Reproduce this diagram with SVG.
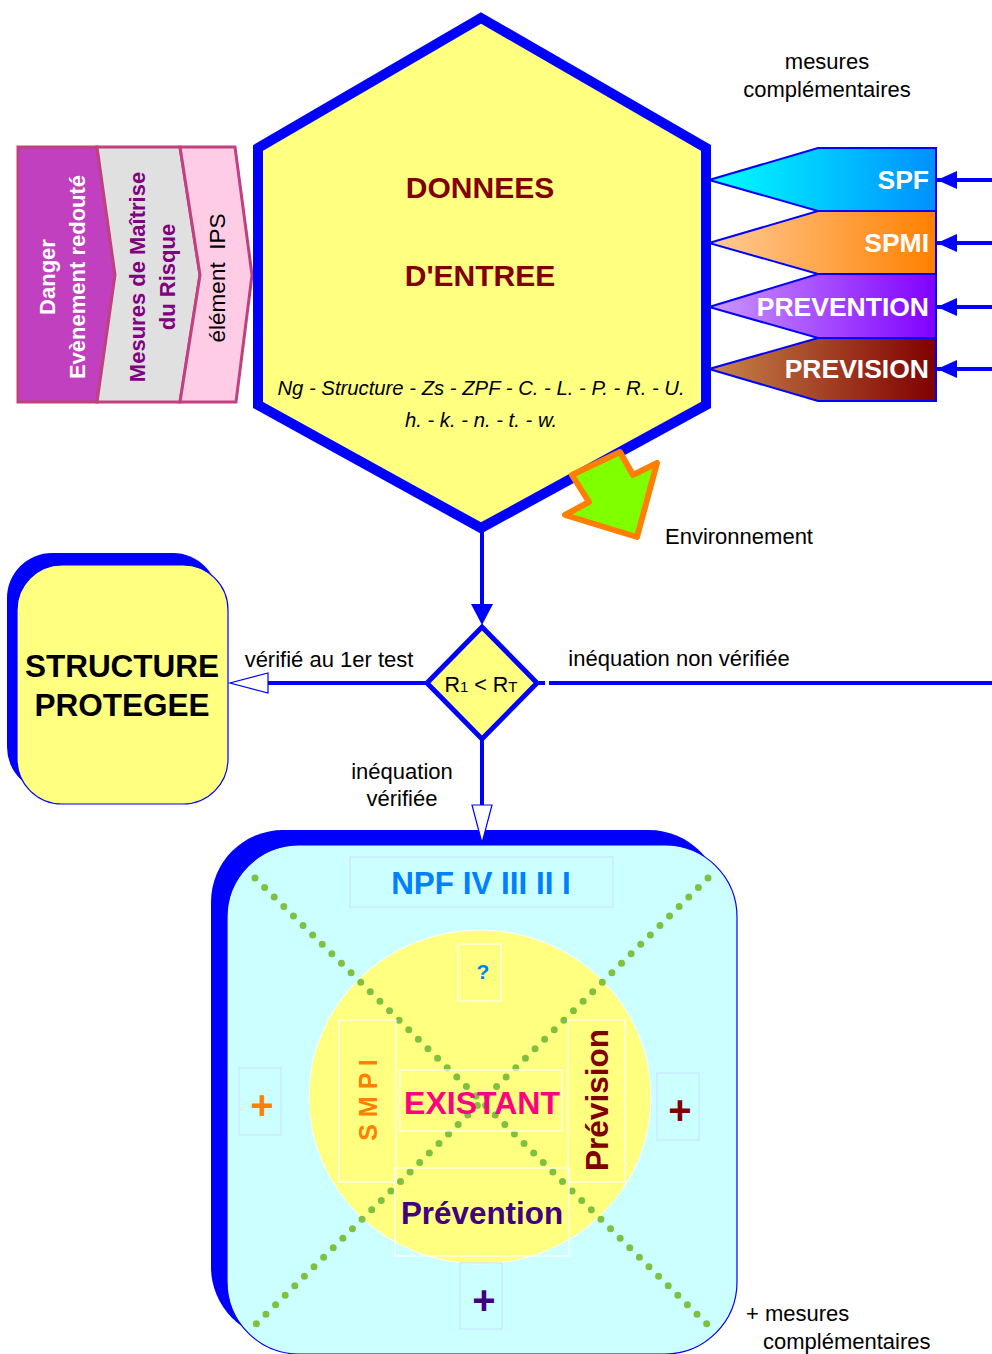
<svg xmlns="http://www.w3.org/2000/svg" width="992" height="1354" viewBox="0 0 992 1354">
<style>
text{font-family:"Liberation Sans",Arial,sans-serif}
.b{font-weight:bold}
.lbl{font-size:22px;fill:#000}
.box{fill:none;stroke:#FFFFFF;stroke-width:1.2}
.pbox{fill:none;stroke:#C8E4FF;stroke-width:1.2}
.wt{fill:#fff;font-weight:bold;font-size:26.5px;text-anchor:end}
.link{stroke:#0000FF;stroke-width:4;fill:none}
.plus{font-size:40px;font-weight:bold;text-anchor:middle}
.dots{stroke:#80C040;stroke-width:7;stroke-linecap:round;stroke-dasharray:0 13.5;fill:none}
</style>
<defs>
<linearGradient id="gSPF" x1="0" x2="1" y1="0" y2="0"><stop offset="0" stop-color="#00FFFF"/><stop offset="1" stop-color="#0090FF"/></linearGradient>
<linearGradient id="gSPMI" x1="0" x2="1" y1="0" y2="0"><stop offset="0" stop-color="#FFCC99"/><stop offset="1" stop-color="#FF8000"/></linearGradient>
<linearGradient id="gPREV" x1="0" x2="1" y1="0" y2="0"><stop offset="0" stop-color="#CC99FF"/><stop offset="1" stop-color="#8000FF"/></linearGradient>
<linearGradient id="gPRVS" x1="0" x2="1" y1="0" y2="0"><stop offset="0" stop-color="#C8864A"/><stop offset="1" stop-color="#800000"/></linearGradient>
<marker id="fa" markerWidth="20" markerHeight="20" refX="20" refY="10" orient="auto" markerUnits="userSpaceOnUse" viewBox="0 0 20 20"><path d="M0,1 L20,10 L0,19 z" fill="#0000FF"/></marker>
</defs>

<!-- chevrons -->
<g id="chevrons">
<polygon points="18,147 97,147 115,275 97,402 18,402" fill="#C040C0" stroke="#C04080" stroke-width="3"/>
<polygon points="97,147 180,147 200,275 180,402 97,402 115,275" fill="#E0E0E0" stroke="#C04080" stroke-width="3"/>
<polygon points="180,147 235,147 252,275 236,402 180,402 200,275" fill="#FFCCE6" stroke="#C04080" stroke-width="3"/>
<text transform="translate(55,277) rotate(-90)" text-anchor="middle" font-size="22" class="b" fill="#fff">Danger</text>
<text transform="translate(85,277) rotate(-90)" text-anchor="middle" font-size="22" class="b" fill="#fff">Evènement redouté</text>
<text transform="translate(145,277) rotate(-90)" text-anchor="middle" font-size="22" class="b" fill="#800080">Mesures de Maîtrise</text>
<text transform="translate(175,277) rotate(-90)" text-anchor="middle" font-size="22" class="b" fill="#800080">du Risque</text>
<text transform="translate(225,278) rotate(-90)" text-anchor="middle" font-size="22.5" fill="#000" xml:space="preserve">élément  IPS</text>
</g>

<!-- hexagon -->
<g id="donnees">
<polygon points="481,18 706,148 706,405 481,528 258,405 258,148" fill="#FFFF80" stroke="#0000FF" stroke-width="10" stroke-linejoin="miter"/>
<text x="480" y="198" text-anchor="middle" font-size="30" class="b" fill="#800000">DONNEES</text>
<text x="480" y="286" text-anchor="middle" font-size="30" class="b" fill="#800000">D'ENTREE</text>
<text x="481" y="395" text-anchor="middle" font-size="20.3" font-style="italic" fill="#000">Ng - Structure - Zs - ZPF - C. - L. - P. - R. - U.</text>
<text x="481" y="427" text-anchor="middle" font-size="20.3" font-style="italic" fill="#000">h. - k. - n. - t. - w.</text>
</g>

<!-- measures -->
<g id="spf">
<polygon points="709,180 818,148 936,148 936,211 818,211" fill="url(#gSPF)" stroke="#0000FF" stroke-width="2"/>
<text x="929" y="189" class="wt">SPF</text>
</g>
<g id="spmi">
<polygon points="709,243 818,211 936,211 936,274 818,274" fill="url(#gSPMI)" stroke="#0000FF" stroke-width="2"/>
<text x="929" y="252" class="wt">SPMI</text>
</g>
<g id="prevention">
<polygon points="709,307 818,274 936,274 936,338 818,338" fill="url(#gPREV)" stroke="#0000FF" stroke-width="2"/>
<text x="929" y="316" class="wt">PREVENTION</text>
</g>
<g id="prevision">
<polygon points="709,369 818,338 936,338 936,401 818,401" fill="url(#gPRVS)" stroke="#0000FF" stroke-width="2"/>
<text x="929" y="378" class="wt">PREVISION</text>
</g>
<text x="827" y="69" text-anchor="middle" class="lbl">mesures</text>
<text x="827" y="97" text-anchor="middle" class="lbl">complémentaires</text>

<!-- environment arrow -->
<g id="environnement">
<polygon points="572,475 620,452 633,475 657,463 637,537 565,515 589,502" fill="#80FF00" stroke="#FF8000" stroke-width="6" stroke-linejoin="round"/>
<text x="665" y="544" class="lbl">Environnement</text>
</g>

<!-- structure protegee -->
<g id="structure">
<rect x="7" y="553" width="211" height="239" rx="45" fill="#0000FF"/>
<rect x="17" y="565" width="211" height="239" rx="45" fill="#FFFF80" stroke="#0000FF" stroke-width="1.2"/>
<text x="122" y="677" text-anchor="middle" font-size="31.5" class="b" fill="#000">STRUCTURE</text>
<text x="122" y="716" text-anchor="middle" font-size="31.5" class="b" fill="#000">PROTEGEE</text>
</g>

<!-- decision -->
<g id="decision">
<polygon points="482,627 537,683 482,739 427,683" fill="#FFFF80" stroke="#0000FF" stroke-width="5"/>
<text x="481" y="692" text-anchor="middle" font-size="21.5" fill="#000">R<tspan font-size="15">1</tspan> &lt; R<tspan font-size="15">T</tspan></text>
</g>

<!-- NPF box -->
<g id="npf">
<rect x="211" y="830" width="510" height="509" rx="72" fill="#0000FF"/>
<rect x="227" y="845" width="510" height="509" rx="72" fill="#CCFFFF" stroke="#0000FF" stroke-width="1.2"/>
<rect x="350" y="857" width="263" height="50" fill="none" stroke="#C8E4FF" stroke-width="1.2"/>
<text x="481" y="894" text-anchor="middle" font-size="31.4" class="b" fill="#0080FF">NPF IV III II I</text>
<ellipse cx="480" cy="1097" rx="171" ry="167" fill="#FFFF80" stroke="#FFFFFF" stroke-width="1"/>
<path class="dots" d="M255,878 L708,1325"/>
<path class="dots" d="M708,878 L255,1325"/>
<rect class="box" x="458" y="944" width="43" height="57"/>
<text x="483" y="979" text-anchor="middle" font-size="21" class="b" fill="#0080FF">?</text>
<rect class="box" x="339" y="1020" width="57" height="162"/>
<text transform="translate(377,1100) rotate(-90)" text-anchor="middle" font-size="25" class="b" fill="#FF8000">S M P I</text>
<rect class="box" x="400" y="1070" width="162" height="61"/>
<text x="482" y="1114" text-anchor="middle" font-size="32" class="b" fill="#FF0080">EXISTANT</text>
<rect class="box" x="568" y="1020" width="57" height="162"/>
<text transform="translate(608,1100) rotate(-90)" text-anchor="middle" font-size="31.5" class="b" fill="#800000">Prévision</text>
<rect class="box" x="395" y="1168" width="174" height="88"/>
<text x="482" y="1224" text-anchor="middle" font-size="31.4" class="b" fill="#400080">Prévention</text>
<rect class="pbox" x="239" y="1068" width="42" height="67"/>
<text x="262" y="1119" class="plus" fill="#FF8000">+</text>
<rect class="pbox" x="657" y="1073" width="42" height="67"/>
<text x="680" y="1124" class="plus" fill="#800000">+</text>
<rect class="pbox" x="460" y="1263" width="42" height="66"/>
<text x="484" y="1314" class="plus" fill="#400080">+</text>
</g>
<text x="746" y="1321" class="lbl">+ mesures</text>
<text x="763" y="1349" class="lbl">complémentaires</text>

<!-- connectors -->
<g id="connectors">
<line class="link" x1="992" y1="180" x2="937" y2="180" marker-end="url(#fa)" stroke-width="3.5"/>
<line class="link" x1="992" y1="243" x2="937" y2="243" marker-end="url(#fa)" stroke-width="3.5"/>
<line class="link" x1="992" y1="307" x2="937" y2="307" marker-end="url(#fa)" stroke-width="3.5"/>
<line class="link" x1="992" y1="369" x2="937" y2="369" marker-end="url(#fa)" stroke-width="3.5"/>
<line class="link" x1="482" y1="532" x2="482" y2="606"/>
<polygon points="471,604 493,604 482,625" fill="#0000FF"/>
<line class="link" x1="427" y1="683" x2="268" y2="683"/>
<polygon points="268,673 268,693 230,683" fill="#FFFFFF" stroke="#0000FF" stroke-width="1.2"/>
<line class="link" x1="539" y1="683" x2="545" y2="683"/>
<line class="link" x1="549" y1="683" x2="992" y2="683"/>
<line class="link" x1="482" y1="740" x2="482" y2="805"/>
<polygon points="472,805 492,805 482,843" fill="#FFFFFF" stroke="#0000FF" stroke-width="1.2"/>
</g>
<text x="329" y="667" text-anchor="middle" class="lbl">vérifié au 1er test</text>
<text x="679" y="666" text-anchor="middle" class="lbl">inéquation non vérifiée</text>
<text x="402" y="779" text-anchor="middle" class="lbl">inéquation</text>
<text x="402" y="806" text-anchor="middle" class="lbl">vérifiée</text>
</svg>
